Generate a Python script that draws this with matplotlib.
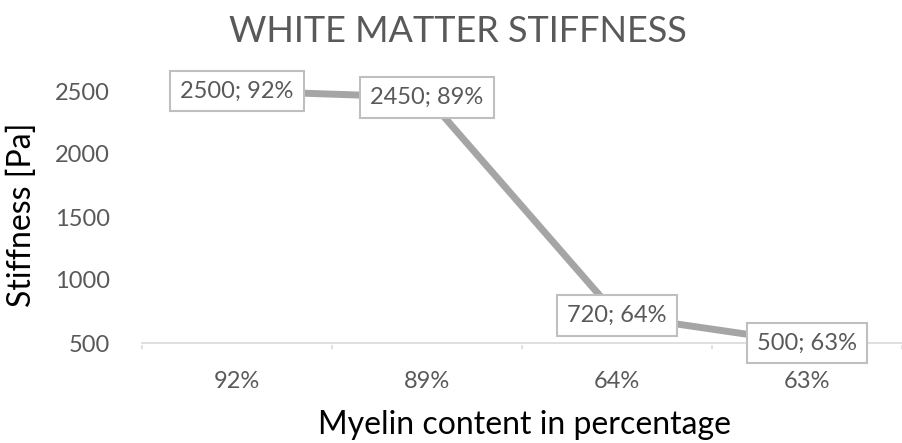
import matplotlib
matplotlib.use("Agg")
import matplotlib.pyplot as plt

categories = ["92%", "89%", "64%", "63%"]
stiffness = [2500, 2450, 720, 500]
y_ticks = [500, 1000, 1500, 2000, 2500]

TEXT = "#595959"
LINE = "#A5A5A5"
AXIS = "#D9D9D9"
FONT = ["Lato", "DejaVu Sans"]

plt.rcParams["font.family"] = FONT

W, H = 903, 443
fig = plt.figure(figsize=(W / 100, H / 100), dpi=100)
ax = fig.add_axes([142 / W, (H - 343) / H, (902 - 142) / W, (343 - 91) / H])

x = list(range(len(categories)))
ax.plot(x, stiffness, color=LINE, lw=5, solid_capstyle="butt", zorder=2, clip_on=False)

for xi, v, c in zip(x, stiffness, categories):
    ax.text(xi, v, f"{v}; {c}", ha="center", va="center", fontsize=17, color=TEXT,
            zorder=3, clip_on=False,
            bbox=dict(boxstyle="square,pad=0.42", fc="white", ec="#BFBFBF", lw=1.5))

ax.set_xlim(-0.5, len(categories) - 0.5)
ax.set_ylim(500, 2500)
ax.set_yticks(y_ticks)
ax.set_xticks(x)
ax.set_xticklabels(categories)
ax.tick_params(axis="y", length=0, labelsize=17, labelcolor=TEXT, pad=23)
ax.tick_params(axis="x", length=0, labelsize=17, labelcolor=TEXT, pad=20)

# category boundary tick marks
for b in [i - 0.5 for i in range(len(categories) + 1)]:
    ax.annotate("", xy=(b, 500), xytext=(0, -6), textcoords="offset points",
                xycoords="data", arrowprops=dict(arrowstyle="-", color=AXIS, lw=1.2))

for s in ["top", "right", "left"]:
    ax.spines[s].set_visible(False)
ax.spines["bottom"].set_color(AXIS)
ax.spines["bottom"].set_linewidth(1.2)

fig.text(458 / W, 1 - 32 / H, "WHITE MATTER STIFFNESS", ha="center", va="center",
         fontsize=26, color=TEXT)
fig.text(525 / W, 1 - 425 / H, "Myelin content in percentage", ha="center", va="center",
         fontsize=23, color="#000000")
fig.text(22 / W, 1 - 215 / H, "Stiffness [Pa]", ha="center", va="center",
         fontsize=23, color="#000000", rotation=90)

fig.savefig("out.png", dpi=100)
